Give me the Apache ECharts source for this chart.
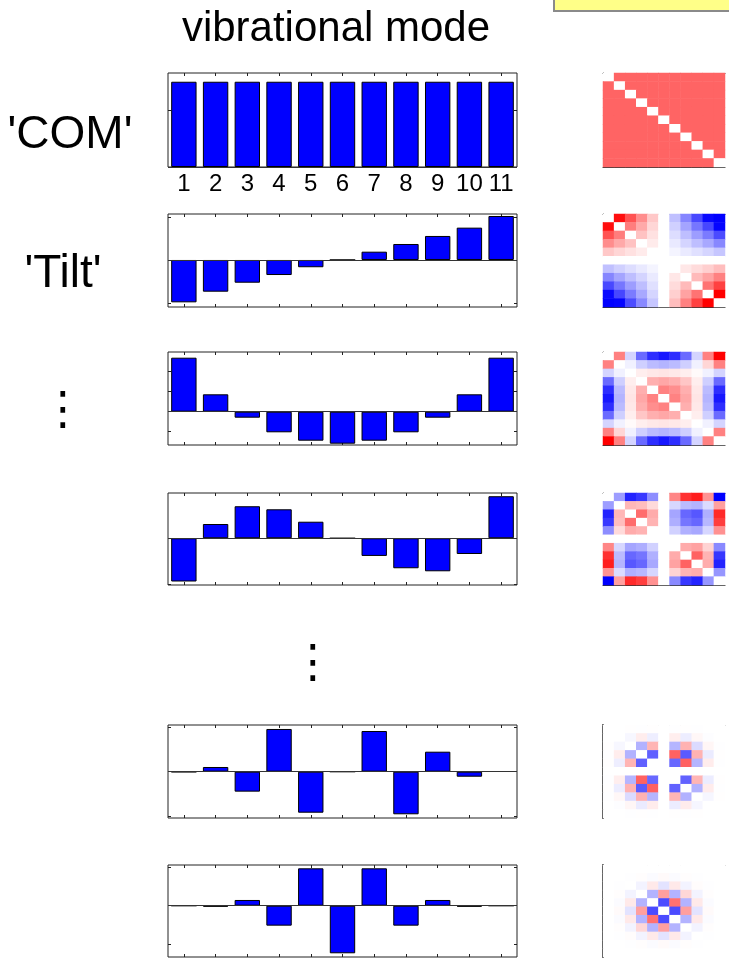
<!DOCTYPE html>
<html>
<head>
<meta charset="utf-8">
<script src="https://cdn.jsdelivr.net/npm/echarts@6/dist/echarts.min.js"></script>
<style>
  html, body { margin: 0; padding: 0; background: #ffffff; }
  #chart { width: 729px; height: 959px; }
</style>
</head>
<body>
<div id="chart"></div>
<script>
// Oscillator index along the chain
const modeNumbers = ['1', '2', '3', '4', '5', '6', '7', '8', '9', '10', '11'];

// Normalised mode shapes (amplitude of each oscillator)
const modeCOM  = [0.3015, 0.3015, 0.3015, 0.3015, 0.3015, 0.3015, 0.3015, 0.3015, 0.3015, 0.3015, 0.3015];
const modeTilt = [-0.49, -0.367, -0.263, -0.174, -0.084, 0, 0.096, 0.185, 0.278, 0.374, 0.509];
const modeBow  = [0.54, 0.174, -0.06, -0.206, -0.29, -0.32, -0.29, -0.206, -0.06, 0.174, 0.54];
const modeWave = [-0.47, 0.155, 0.348, 0.315, 0.18, 0, -0.192, -0.326, -0.359, -0.171, 0.457];
const modeHighA = [-0.004, 0.053, -0.226, 0.483, -0.464, 0, 0.46, -0.482, 0.226, -0.057, 0.004];
const modeHighB = [0, -0.013, 0.074, -0.258, 0.483, -0.615, 0.483, -0.258, 0.074, -0.013, 0];

// Row annotations
const rowLabels = ["'COM'", "'Tilt'"];
const titleText = 'vibrational mode';
const ellipsis = '\u22EE';

const FONT = '"Liberation Sans", Arial, Helvetica, sans-serif';

// Panel layout: vertical placement, y-range and colour range of the coupling map
const panels = [
  { values: modeCOM,   top: 73,  height: 94, yMin: 0,      yMax: 0.3324, yTicks: [0, 0.2],            clim: 0.15, labels: true,  open: false },
  { values: modeTilt,  top: 214, height: 93, yMin: -0.544, yMax: 0.532,  yTicks: [-0.5, 0, 0.5],      clim: 0.19, labels: false, open: false },
  { values: modeBow,   top: 352, height: 93, yMin: -0.333, yMax: 0.597,  yTicks: [-0.2, 0, 0.2, 0.4], clim: 0.19, labels: false, open: false },
  { values: modeWave,  top: 493, height: 92, yMin: -0.508, yMax: 0.492,  yTicks: [-0.5, 0],           clim: 0.19, labels: false, open: false },
  { values: modeHighA, top: 725, height: 93, yMin: -0.524, yMax: 0.528,  yTicks: [-0.5, 0, 0.5],      clim: 0.36, labels: false, open: true },
  { values: modeHighB, top: 865, height: 92, yMin: -0.663, yMax: 0.526,  yTicks: [-0.5, 0, 0.5],      clim: 0.42, labels: false, open: true }
];

// Each coupling map shows the pairwise product of a mode's amplitudes;
// self-terms on the diagonal are left blank.
function couplingCells(v) {
  const cells = [];
  for (let i = 0; i < v.length; i++) {
    for (let j = 0; j < v.length; j++) {
      cells.push([j, i, i === j ? 0 : v[i] * v[j]]);
    }
  }
  return cells;
}

const grids = [], xAxes = [], yAxes = [], series = [], visualMaps = [];
const tickColor = '#222';
const everyOther = function (idx) { return idx % 2 === 1; };

panels.forEach(function (p) {
  // ---- bar panel ----
  const g = grids.length;
  grids.push({ left: 168, top: p.top, width: 349, height: p.height, show: true,
               borderColor: '#222', borderWidth: 1, backgroundColor: 'transparent' });
  const xb = xAxes.length;
  xAxes.push({ type: 'category', gridIndex: g, data: modeNumbers, position: 'bottom', boundaryGap: true,
               axisLine: { show: false, onZero: false },
               axisTick: { show: true, inside: true, alignWithLabel: true, length: 3, lineStyle: { color: tickColor } },
               axisLabel: { show: p.labels, interval: 0, fontSize: 24, color: '#000', margin: 5, fontFamily: FONT },
               splitLine: { show: false } });
  xAxes.push({ type: 'category', gridIndex: g, data: modeNumbers, position: 'top', boundaryGap: true,
               axisLine: { show: false, onZero: false },
               axisTick: { show: true, inside: true, alignWithLabel: true, length: 3, lineStyle: { color: tickColor } },
               axisLabel: { show: false }, splitLine: { show: false } });
  const yl = yAxes.length;
  yAxes.push({ type: 'value', gridIndex: g, position: 'left', min: p.yMin, max: p.yMax,
               axisLine: { show: false },
               axisTick: { show: true, inside: true, length: 3, customValues: p.yTicks, lineStyle: { color: tickColor } },
               axisLabel: { show: false, customValues: p.yTicks }, splitLine: { show: false } });
  yAxes.push({ type: 'value', gridIndex: g, position: 'right', min: p.yMin, max: p.yMax,
               axisLine: { show: false },
               axisTick: { show: true, inside: true, length: 3, customValues: p.yTicks, lineStyle: { color: tickColor } },
               axisLabel: { show: false, customValues: p.yTicks }, splitLine: { show: false } });
  series.push({ type: 'bar', xAxisIndex: xb, yAxisIndex: yl, data: p.values, barCategoryGap: '20%',
                itemStyle: { color: '#0000ff', borderColor: '#000', borderWidth: 1 },
                markLine: { silent: true, symbol: 'none', label: { show: false },
                            lineStyle: { color: '#333', width: 1, type: 'solid' }, data: [{ yAxis: 0 }] } });

  // ---- coupling map ----
  const hg = grids.length;
  grids.push({ left: 603, top: p.top, width: 122, height: p.height, show: false });
  const hx = xAxes.length;
  xAxes.push({ type: 'category', gridIndex: hg, data: modeNumbers, position: 'bottom',
               axisLine: { show: !p.open, onZero: false, lineStyle: { color: '#333' } },
               axisTick: { show: true, inside: true, alignWithLabel: true, length: 2,
                           interval: everyOther, lineStyle: { color: tickColor } },
               axisLabel: { show: false }, splitLine: { show: false }, splitArea: { show: false } });
  xAxes.push({ type: 'category', gridIndex: hg, data: modeNumbers, position: 'top',
               axisLine: { show: true, onZero: false, lineStyle: { color: p.open ? '#999' : '#333' } },
               axisTick: { show: true, inside: true, alignWithLabel: true, length: 2,
                           interval: everyOther, lineStyle: { color: tickColor } },
               axisLabel: { show: false }, splitLine: { show: false }, splitArea: { show: false } });
  const hy = yAxes.length;
  yAxes.push({ type: 'category', gridIndex: hg, data: modeNumbers, inverse: true, position: 'left',
               axisLine: { show: true, onZero: false, lineStyle: { color: '#333', width: p.open ? 2 : 1 } },
               axisTick: { show: false }, axisLabel: { show: false },
               splitLine: { show: false }, splitArea: { show: false } });
  yAxes.push({ type: 'category', gridIndex: hg, data: modeNumbers, inverse: true, position: 'right',
               axisLine: { show: false, onZero: false },
               axisTick: { show: true, inside: true, alignWithLabel: true, length: 2,
                           interval: everyOther, lineStyle: { color: tickColor } },
               axisLabel: { show: false }, splitLine: { show: false }, splitArea: { show: false } });
  series.push({ type: 'heatmap', xAxisIndex: hx, yAxisIndex: hy, data: couplingCells(p.values),
                itemStyle: { borderWidth: 0 }, emphasis: { disabled: true } });
  visualMaps.push({ type: 'continuous', show: false, seriesIndex: series.length - 1, dimension: 2,
                    min: -p.clim, max: p.clim, inRange: { color: ['#0000ff', '#ffffff', '#ff0000'] } });
});

const chart = echarts.init(document.getElementById('chart'), null, { renderer: 'canvas' });
chart.setOption({
  backgroundColor: '#ffffff',
  animation: false,
  grid: grids,
  xAxis: xAxes,
  yAxis: yAxes,
  visualMap: visualMaps,
  series: series,
  graphic: [
    { type: 'rect', shape: { x: 554, y: -4, width: 180, height: 15 },
      style: { fill: '#ffff88', stroke: '#8a8a8a', lineWidth: 2 } },
    { type: 'text', x: 336, y: 29,
      style: { text: titleText, font: '42px ' + FONT, fill: '#000', textAlign: 'center', textVerticalAlign: 'middle' } },
    { type: 'text', x: 70, y: 135,
      style: { text: rowLabels[0], font: '46px ' + FONT, fill: '#000', textAlign: 'center', textVerticalAlign: 'middle' } },
    { type: 'text', x: 63, y: 274,
      style: { text: rowLabels[1], font: '46px ' + FONT, fill: '#000', textAlign: 'center', textVerticalAlign: 'middle' } },
    { type: 'text', x: 63, y: 412,
      style: { text: ellipsis, font: '46px "DejaVu Sans", sans-serif', fill: '#000', textAlign: 'center', textVerticalAlign: 'middle' } },
    { type: 'text', x: 313, y: 665,
      style: { text: ellipsis, font: '46px "DejaVu Sans", sans-serif', fill: '#000', textAlign: 'center', textVerticalAlign: 'middle' } }
  ]
});
</script>
</body>
</html>
